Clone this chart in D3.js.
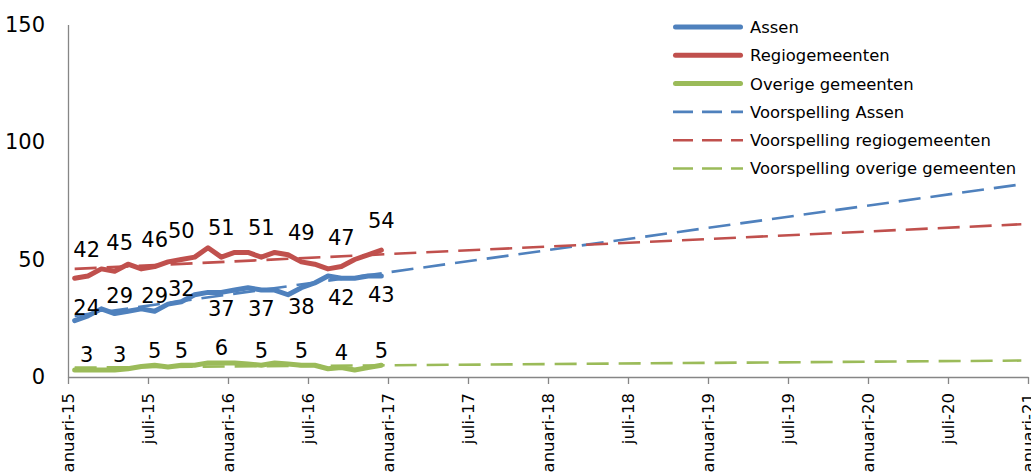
<!DOCTYPE html>
<html>
<head>
<meta charset="utf-8">
<title>Voorspelling Assen</title>
<script src="https://d3js.org/d3.v7.min.js"></script>
<style>
  body { margin: 0; background: #fff; }
  text { font-family: "DejaVu Sans", sans-serif; fill: #000; }
</style>
</head>
<body>
<script>
// month index 0 = januari-15; each value sits in the middle of its month
const assen  = [24, 26, 29, 27, 28, 29, 28, 31, 32, 35, 36, 36, 37, 38, 37, 37, 35, 38, 40, 43, 42, 42, 43, 43];
const regio  = [42, 43, 46, 45, 48, 46, 47, 49, 50, 51, 55, 51, 53, 53, 51, 53, 52, 49, 48, 46, 47, 50, 52, 54];
const overig = [3, 3, 3, 3, 3.5, 4.5, 5, 4.3, 5, 5, 6, 6, 6, 5.5, 5, 6, 5.5, 5, 5, 3.5, 4, 3, 4, 5];

// data labels shown in the chart
const labelMonths  = [0, 3, 6, 8, 11, 14, 17, 20, 23];
const assenLabels  = [24, 29, 29, 32, 37, 37, 38, 42, 43];
const regioLabels  = [42, 45, 46, 50, 51, 51, 49, 47, 54];
const overigLabels = [3, 3, 5, 5, 6, 5, 5, 4, 5];

// trend / forecast lines (start and end month)
const forecastMonths = [0, 71];
const forecastAssen  = [26, 82];
const forecastRegio  = [46, 65];
const forecastOverig = [4, 7];

const tickMonths = [0, 6, 12, 18, 24, 30, 36, 42, 48, 54, 60, 66, 72];
const tickLabels = ["januari-15", "juli-15", "januari-16", "juli-16", "januari-17", "juli-17",
  "januari-18", "juli-18", "januari-19", "juli-19", "januari-20", "juli-20", "januari-21"];
const yTicks = [0, 50, 100, 150];

const names = ["Assen", "Regiogemeenten", "Overige gemeenten",
  "Voorspelling Assen", "Voorspelling regiogemeenten", "Voorspelling overige gemeenten"];
const colors = ["#4F81BD", "#C0504D", "#9BBB59"];

const W = 1031, H = 474;
const svg = d3.select("body").append("svg").attr("width", W).attr("height", H);

const x = d3.scaleLinear().domain([0, 72]).range([68, 1028]);
const y = d3.scaleLinear().domain([0, 150]).range([377, 24.5]);

// axes
const xAxis = svg.append("g")
  .attr("transform", "translate(0,377)")
  .call(d3.axisBottom(x).tickValues(tickMonths).tickSize(7).tickSizeOuter(0)
    .tickFormat((d, i) => tickLabels[i]));
xAxis.selectAll("text")
  .attr("font-size", 16.5)
  .attr("text-anchor", "end")
  .attr("x", 0).attr("y", 0).attr("dy", "0.36em")
  .attr("transform", "translate(0,16) rotate(-90)");

const yAxis = svg.append("g")
  .attr("transform", "translate(68,0)")
  .call(d3.axisLeft(y).tickValues(yTicks).tickSize(0).tickPadding(23));
yAxis.selectAll("text").attr("font-size", 21);

svg.selectAll(".domain, .tick line").attr("stroke", "#868686").attr("stroke-width", 1.3);
svg.selectAll(".tick text").attr("fill", "#000");

const line = d3.line().x(d => x(d[0] + 0.5)).y(d => y(d[1]));

// forecast lines behind the data
[forecastAssen, forecastRegio, forecastOverig].forEach((s, k) => {
  svg.append("path")
    .attr("d", line(forecastMonths.map((m, i) => [m, s[i]])))
    .attr("fill", "none")
    .attr("stroke", colors[k])
    .attr("stroke-width", 2.6)
    .attr("stroke-dasharray", "22,10");
});

[assen, regio, overig].forEach((s, k) => {
  svg.append("path")
    .attr("d", line(s.map((v, i) => [i, v])))
    .attr("fill", "none")
    .attr("stroke", colors[k])
    .attr("stroke-width", 5)
    .attr("stroke-linejoin", "round")
    .attr("stroke-linecap", "round");
});

// data labels; first two nudged right like the original
const nudge = [12, 5, 0, 0, 0, 0, 0, 0, 0];
function drawLabels(vals, offset) {
  svg.append("g").selectAll("text")
    .data(vals)
    .join("text")
    .attr("x", (d, i) => x(labelMonths[i] + 0.5) + nudge[i])
    .attr("y", (d, i) => y(d) + offset(i) + 7.3)
    .attr("text-anchor", "middle")
    .attr("font-size", 21)
    .text(d => d);
}
drawLabels(regioLabels, () => -29);
drawLabels(assenLabels, i => (i < 4 ? -13 : 19));
drawLabels(overigLabels, () => -15);

// legend
const legend = svg.append("g").attr("transform", "translate(673,27)");
names.forEach((n, i) => {
  const row = legend.append("g").attr("transform", `translate(0,${i * 28.3})`);
  const solid = i < 3;
  row.append("line")
    .attr("x1", solid ? 2.5 : 0).attr("x2", solid ? 67.5 : 70)
    .attr("stroke", colors[i % 3])
    .attr("stroke-width", solid ? 5 : 2.6)
    .attr("stroke-linecap", solid ? "round" : "butt")
    .attr("stroke-dasharray", solid ? null : "20,9");
  row.append("text")
    .attr("x", 77).attr("y", 0).attr("dy", "0.36em")
    .attr("font-size", 16.4)
    .text(n);
});
</script>
</body>
</html>
